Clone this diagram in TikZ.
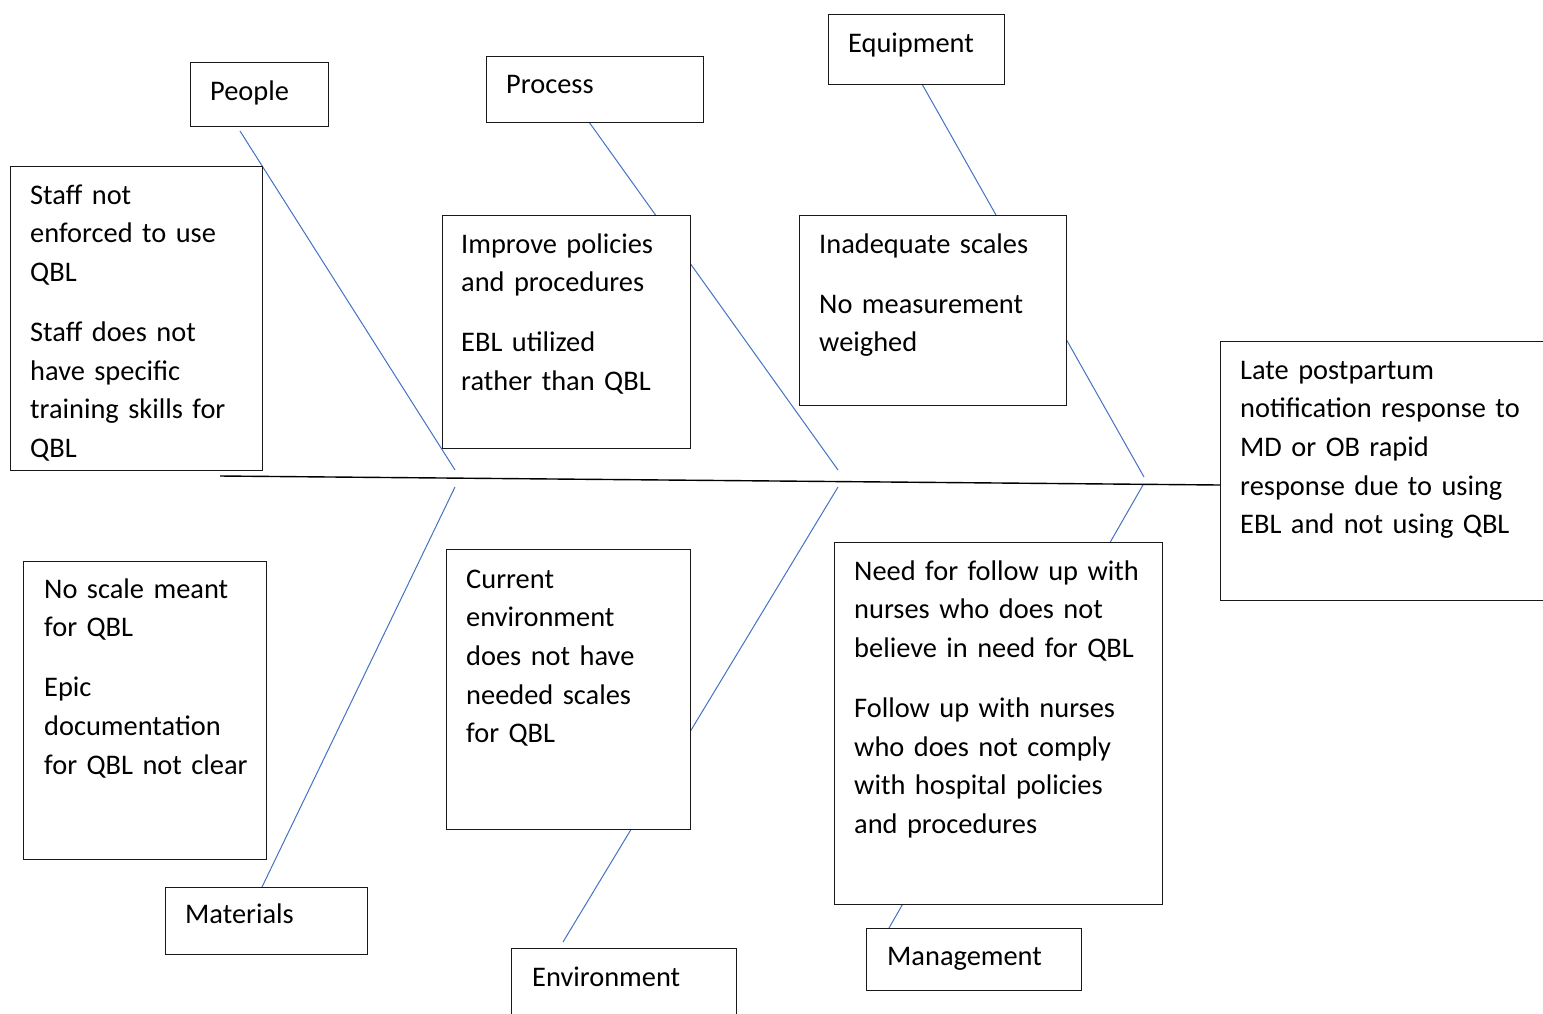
\documentclass[tikz,border=0pt]{standalone}
\usepackage{fontspec}
\setmainfont{Carlito}
\definecolor{bonecol}{RGB}{68,114,196}
\begin{document}
\begin{tikzpicture}[x=1pt,y=-1pt,
  box/.style={draw=black!90,line width=1.3pt,fill=white,inner sep=0pt,anchor=north west},
  txt/.style={anchor=base west,inner sep=0pt,text width=420pt,align=left,font=\fontsize{28.4}{38.7}\selectfont},
  bone/.style={draw=bonecol,line width=1pt},
  spineline/.style={draw=black,line width=1.4pt}]
\useasboundingbox (0,0) rectangle (1543,1013);
\clip (0,0) rectangle (1543,1013);
\fill[white] (0,0) rectangle (1543,1013);
% bone end points
\coordinate (peopleA) at (240,131);
\coordinate (peopleB) at (455,470);
\coordinate (matA) at (455,487);
\coordinate (matB) at (262,887);
\coordinate (procA) at (589,122);
\coordinate (procB) at (838,470);
\coordinate (envA) at (838,487);
\coordinate (envB) at (563,942);
\coordinate (equipA) at (922,84);
\coordinate (equipB) at (1144,477);
\coordinate (mgmtA) at (1143,485);
\coordinate (mgmtB) at (889,928);
\coordinate (tail) at (220,476);
\coordinate (head) at (1220,485);
% bones
\draw[bone] (peopleA) -- (peopleB);
\draw[bone] (matA) -- (matB);
\draw[bone] (procA) -- (procB);
\draw[bone] (envA) -- (envB);
\draw[bone] (equipA) -- (equipB);
\draw[bone] (mgmtA) -- (mgmtB);
\draw[spineline] (tail) -- (head);
% boxes
\node[box,minimum width=138pt,minimum height=64pt] (people) at (190,62) {};
\node[box,minimum width=217pt,minimum height=66pt] (process) at (486,56) {};
\node[box,minimum width=176pt,minimum height=70pt] (equipment) at (828,14) {};
\node[box,minimum width=252pt,minimum height=304pt] (staff) at (10,166) {};
\node[box,minimum width=248pt,minimum height=233pt] (improve) at (442,215) {};
\node[box,minimum width=267pt,minimum height=190pt] (scales) at (799,215) {};
\node[box,minimum width=340pt,minimum height=259pt] (effect) at (1220,341) {};
\node[box,minimum width=243pt,minimum height=298pt] (noscale) at (23,561) {};
\node[box,minimum width=202pt,minimum height=67pt] (materials) at (165,887) {};
\node[box,minimum width=244pt,minimum height=280pt] (current) at (446,549) {};
\node[box,minimum width=225pt,minimum height=90pt] (environment) at (511,948) {};
\node[box,minimum width=328pt,minimum height=362pt] (follow) at (834,542) {};
\node[box,minimum width=215pt,minimum height=62pt] (management) at (866,928) {};
% texts
\node[txt] (peopletxt) at (210,100) {People};
\node[txt] (processtxt) at (506,93) {Process};
\node[txt] (equipmenttxt) at (848,52) {Equipment};
\node[txt] (stafftxt) at (30,204) {Staff not\\enforced to use\\QBL\\[21.3pt]Staff does not\\have specific\\training skills for\\QBL};
\node[txt] (improvetxt) at (461,253) {Improve policies\\and procedures\\[21.3pt]EBL utilized\\rather than QBL};
\node[txt] (scalestxt) at (819,253) {Inadequate scales\\[21.3pt]No measurement\\weighed};
\node[txt] (effecttxt) at (1240,379) {Late postpartum\\notification response to\\MD or OB rapid\\response due to using\\EBL and not using QBL};
\node[txt] (noscaletxt) at (44,598) {No scale meant\\for QBL\\[21.3pt]Epic\\documentation\\for QBL not clear};
\node[txt] (materialstxt) at (185,923) {Materials};
\node[txt] (currenttxt) at (466,588) {Current\\environment\\does not have\\needed scales\\for QBL};
\node[txt] (environmenttxt) at (532,986) {Environment};
\node[txt] (followtxt) at (854,580) {Need for follow up with\\nurses who does not\\believe in need for QBL\\[21.3pt]Follow up with nurses\\who does not comply\\with hospital policies\\and procedures};
\node[txt] (managementtxt) at (887,965) {Management};
\end{tikzpicture}
\end{document}
